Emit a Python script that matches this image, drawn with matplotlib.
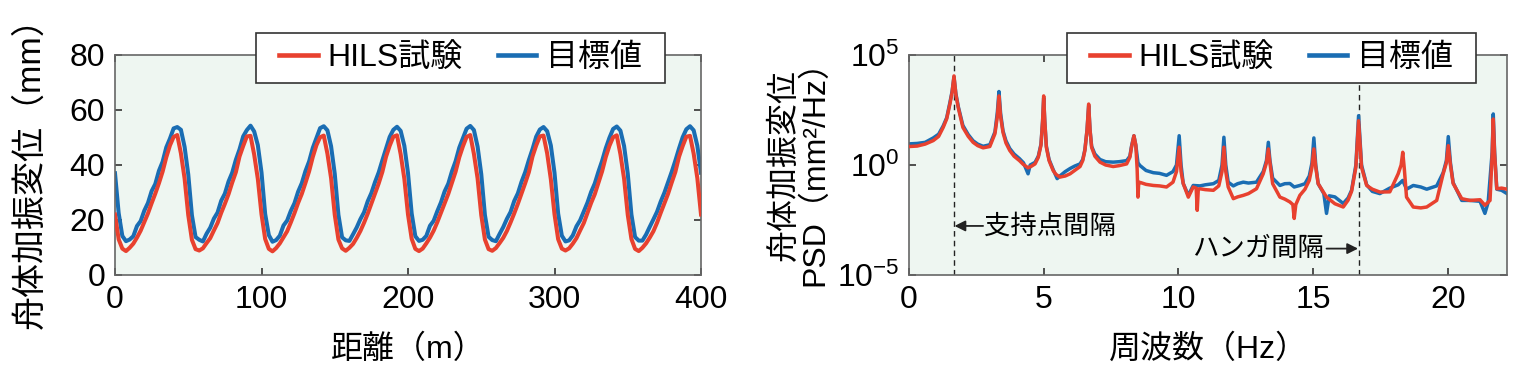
import numpy as np
import matplotlib
matplotlib.use('Agg')
import matplotlib.pyplot as plt
from matplotlib.patches import Rectangle
from matplotlib.ticker import FixedLocator, FixedFormatter, NullLocator

plt.rcParams['font.family'] = ['Liberation Sans', 'Noto Sans CJK JP']
plt.rcParams['mathtext.fontset'] = 'custom'
plt.rcParams['mathtext.rm'] = 'Liberation Sans'
plt.rcParams['axes.unicode_minus'] = True

# --- left panel: displacement vs distance (sampled every 2.5 m) ---
distance = np.arange(0, 400.01, 2.5)
hils_disp = [
    22.0, 13.0, 9.6, 8.7, 9.9, 11.4, 13.6, 16.1, 19.2, 22.4, 26.1, 29.6, 33.4, 37.6, 42.8, 47.1, 50.2, 50.9, 44.2, 35.1,
    21.8, 12.8, 9.4, 8.9, 9.7, 11.6, 13.4, 16.2, 18.9, 22.6, 25.9, 29.4, 33.6, 37.4, 43.1, 46.9, 50.4, 50.6, 43.8, 34.9,
    22.1, 13.1, 9.5, 8.6, 9.8, 11.5, 13.7, 15.9, 19.1, 22.5, 26.2, 29.5, 33.5, 37.7, 42.9, 47.2, 50.1, 50.7, 44.1, 35.2,
    21.9, 12.9, 9.7, 8.8, 9.9, 11.3, 13.5, 16.0, 19.0, 22.3, 26.0, 29.7, 33.3, 37.5, 43.0, 47.0, 50.3, 50.8, 43.9, 35.0,
    22.0, 13.2, 9.5, 8.7, 9.6, 11.5, 13.6, 16.1, 19.2, 22.6, 26.1, 29.5, 33.6, 37.6, 42.8, 46.8, 50.2, 50.9, 44.0, 35.1,
    21.8, 12.9, 9.4, 8.8, 9.8, 11.6, 13.5, 16.0, 19.1, 22.4, 25.9, 29.6, 33.4, 37.4, 43.1, 47.1, 50.4, 50.7, 44.2, 34.8,
    22.1, 13.0, 9.6, 8.9, 9.7, 11.4, 13.4, 16.2, 18.9, 22.5, 26.2, 29.4, 33.5, 37.7, 42.9, 47.0, 50.1, 50.8, 43.9, 35.0,
    21.9, 13.1, 9.5, 8.7, 9.9, 11.5, 13.6, 15.9, 19.0, 22.6, 26.0, 29.5, 33.6, 37.5, 43.0, 46.9, 50.3, 50.6, 44.1, 35.2,
    22.0,
]
target_disp = [
    37.0, 22.5, 14.2, 12.3, 12.9, 14.1, 17.8, 19.6, 23.4, 26.2, 30.5, 33.1, 37.9, 41.2, 46.4, 49.6, 53.3, 53.8, 52.8, 46.6,
    36.6, 21.7, 13.8, 12.8, 12.2, 15.0, 17.2, 20.5, 22.7, 27.0, 29.6, 34.0, 37.2, 41.9, 45.7, 50.4, 52.7, 54.3, 52.2, 47.2,
    37.3, 22.2, 14.5, 12.1, 12.7, 14.3, 18.0, 19.8, 23.3, 26.1, 30.3, 33.4, 37.8, 41.3, 46.2, 49.8, 53.4, 54.1, 52.6, 46.8,
    36.8, 21.9, 13.7, 12.6, 12.4, 14.8, 17.3, 20.3, 22.8, 26.8, 29.8, 33.8, 37.3, 41.7, 45.9, 50.2, 52.8, 53.9, 52.4, 47.0,
    37.1, 22.4, 14.1, 12.4, 12.8, 14.2, 17.9, 19.7, 23.2, 26.4, 30.4, 33.2, 37.7, 41.4, 46.3, 49.7, 53.2, 54.2, 52.7, 46.7,
    36.7, 21.8, 13.9, 12.7, 12.3, 14.9, 17.4, 20.4, 22.9, 26.9, 29.7, 33.9, 37.4, 41.8, 45.8, 50.3, 52.9, 53.8, 52.3, 47.1,
    37.2, 22.3, 14.3, 12.2, 12.6, 14.4, 17.7, 19.9, 23.1, 26.3, 30.2, 33.3, 37.6, 41.5, 46.1, 49.9, 53.1, 54.0, 52.5, 46.9,
    36.9, 22.0, 13.8, 12.5, 12.5, 14.7, 17.5, 20.2, 23.0, 26.7, 29.9, 33.7, 37.5, 41.6, 46.0, 50.1, 53.0, 54.1, 52.6, 47.0,
    37.2,
]

# --- right panel: PSD (log10 of mm^2/Hz) vs frequency ---
hils_freq = [
    0.0, 0.3, 0.6, 0.9, 1.1, 1.27, 1.4, 1.52, 1.6, 1.67, 1.74, 1.83, 2.0, 2.2, 2.38, 2.55, 2.75, 3.0,
    3.19, 3.28, 3.34, 3.4, 3.49, 3.6, 3.74, 3.9, 4.1, 4.25, 4.42, 4.55, 4.68, 4.8, 4.9, 4.96, 5.0, 5.04,
    5.1, 5.2, 5.35, 5.45, 5.6, 5.8, 5.98, 6.15, 6.35, 6.45, 6.53, 6.61, 6.67, 6.72, 6.78, 6.9, 7.09, 7.3,
    7.58, 7.8, 8.08, 8.2, 8.26, 8.35, 8.42, 8.47, 8.5, 8.53, 8.6, 8.8, 9.07, 9.3, 9.56, 9.8, 9.93, 10.03,
    10.1, 10.18, 10.37, 10.55, 10.66, 10.7, 10.74, 10.8, 11.0, 11.3, 11.5, 11.62, 11.69, 11.76, 11.85,
    12.04, 12.2, 12.41, 12.6, 12.9, 13.15, 13.27, 13.34, 13.4, 13.5, 13.77, 13.95, 14.14, 14.25, 14.3,
    14.36, 14.51, 14.7, 14.86, 14.96, 15.03, 15.1, 15.19, 15.5, 15.81, 16.12, 16.3, 16.43, 16.59, 16.69,
    16.8, 16.99, 17.2, 17.48, 17.85, 18.16, 18.27, 18.33, 18.39, 18.47, 18.72, 19.0, 19.22, 19.59, 19.83,
    19.95, 20.02, 20.1, 20.2, 20.52, 20.82, 21.2, 21.38, 21.57, 21.65, 21.69, 21.74, 21.82, 22.0, 22.2,
]
hils_psd_log = [
    0.84, 0.86, 0.95, 1.11, 1.3, 1.71, 2.1, 2.78, 3.3, 4.05, 3.2, 2.6, 1.71, 1.3, 1.03, 0.88, 0.78, 0.84,
    1.42, 2.2, 3.14, 2.2, 1.48, 1.0, 0.66, 0.4, 0.2, 0.02, -0.13, -0.05, 0.05, 0.35, 0.9, 2.0, 3.14, 2.0,
    0.8, 0.2, -0.25, -0.42, -0.55, -0.5, -0.4, -0.25, -0.07, 0.2, 0.66, 1.6, 2.77, 1.6, 0.8, 0.4, 0.13, 0.0,
    -0.07, -0.03, 0.05, 0.35, 0.8, 1.33, 0.9, -0.2, -1.46, -0.78, -0.8, -0.88, -0.93, -0.95, -1.0, -0.78, -0.3, 0.81,
    -0.3, -0.84, -1.46, -1.0, -1.05, -2.06, -1.1, -1.08, -1.12, -1.15, -0.95, -0.3, 0.81, -0.3, -1.0,
    -1.53, -1.45, -1.38, -1.3, -1.08, -0.4, 0.1, 0.73, 0.1, -0.85, -1.46, -1.55, -1.68, -1.8, -2.43,
    -1.8, -1.38, -1.1, -0.7, -0.1, 0.73, -0.1, -0.85, -1.46, -1.76, -1.91, -1.6, -1.2, -0.1, 2.01,
    -0.1, -0.93, -1.1, -1.23, -1.22, -0.4, 0.0, 0.58, -0.2, -1.46, -1.91, -1.95, -1.91, -1.61, -0.4,
    0.1, 0.88, 0.0, -0.84, -1.53, -1.61, -1.58, -1.83, -1.61, 0.5, 2.09, 0.5, -1.08, -1.05, -1.1,
]
target_freq = [
    0.0, 0.3, 0.6, 0.9, 1.1, 1.27, 1.4, 1.52, 1.6, 1.67, 1.74, 1.83, 2.0, 2.2, 2.38, 2.55, 2.75, 3.0,
    3.19, 3.28, 3.34, 3.4, 3.49, 3.6, 3.74, 3.9, 4.1, 4.25, 4.42, 4.5, 4.68, 4.8, 4.9, 4.96, 5.0, 5.04,
    5.1, 5.2, 5.35, 5.5, 5.6, 5.8, 5.98, 6.15, 6.35, 6.45, 6.53, 6.61, 6.67, 6.72, 6.78, 6.9, 7.09, 7.3,
    7.58, 7.8, 8.08, 8.2, 8.26, 8.35, 8.42, 8.5, 8.57, 8.8, 9.07, 9.3, 9.56, 9.8, 9.93, 10.03, 10.1,
    10.18, 10.37, 10.55, 10.8, 11.0, 11.3, 11.5, 11.62, 11.69, 11.76, 11.85, 12.04, 12.2, 12.41, 12.6,
    12.9, 13.15, 13.27, 13.34, 13.4, 13.5, 13.77, 13.95, 14.14, 14.3, 14.51, 14.7, 14.86, 14.96, 15.03,
    15.1, 15.19, 15.4, 15.5, 15.6, 15.81, 16.12, 16.3, 16.43, 16.59, 16.69, 16.8, 16.99, 17.2, 17.48,
    17.85, 18.16, 18.33, 18.47, 18.72, 19.0, 19.22, 19.59, 19.83, 19.95, 20.02, 20.1, 20.2, 20.52, 20.82,
    21.2, 21.38, 21.5, 21.65, 21.69, 21.74, 21.82, 22.0, 22.2,
]
target_psd_log = [
    0.96, 0.98, 1.03, 1.23, 1.4, 1.78, 2.15, 2.85, 3.35, 4.0, 3.25, 2.65, 1.8, 1.38, 1.1, 0.95, 0.85, 0.92,
    1.5, 2.4, 3.34, 2.35, 1.55, 1.1, 0.75, 0.5, 0.29, 0.1, -0.4, 0.0, 0.12, 0.4, 0.95, 2.0, 3.05, 2.0,
    0.85, 0.25, -0.2, -0.62, -0.5, -0.3, -0.16, -0.05, 0.05, 0.25, 0.7, 1.6, 2.7, 1.6, 0.85, 0.5, 0.25, 0.15,
    0.13, 0.15, 0.2, 0.4, 0.85, 1.33, 0.9, 0.1, -0.02, -0.25, -0.35, -0.38, -0.47, -0.3, 0.0, 1.33, 0.0,
    -0.84, -1.38, -0.93, -0.95, -0.9, -0.85, -0.7, 0.0, 1.26, 0.0, -0.78, -0.95, -0.85, -0.78, -0.82,
    -0.78, -0.3, 0.2, 1.03, 0.2, -0.6, -0.93, -0.85, -0.84, -1.0, -0.93, -0.85, -0.5, 0.1, 1.23,
    0.0, -0.85, -1.3, -2.2, -1.4, -1.45, -1.75, -1.5, -1.15, 0.0, 2.24, 0.0, -0.9, -1.2, -1.3,
    -1.05, -0.9, -0.7, -1.1, -0.93, -1.0, -1.1, -0.95, -0.35, 0.2, 1.29, 0.1, -0.8, -1.61, -1.61,
    -1.65, -2.2, -1.7, 0.6, 2.32, 0.6, -1.1, -1.15, -1.3,
]

support_freq = 1.67
hanger_freq = 16.69

red = '#e8412f'
blue = '#1a6db3'
bg = '#eef6f1'
spine = '#666666'
fs = 23

fig = plt.figure(figsize=(15.22, 3.8), dpi=100)
ax1 = fig.add_axes([115 / 1522, 105 / 380, 586 / 1522, 220 / 380])
ax2 = fig.add_axes([909 / 1522, 105 / 380, 598 / 1522, 220 / 380])

for ax in (ax1, ax2):
    ax.set_facecolor(bg)
    for s in ax.spines.values():
        s.set_color(spine)
        s.set_linewidth(1.2)
    ax.tick_params(direction='in', length=5, width=1.2, color='#333333',
                   top=True, right=True, labelsize=fs, pad=7)

# left
ax1.plot(distance, target_disp, color=blue, lw=2.9, label='目標値', zorder=2)
ax1.plot(distance, hils_disp, color=red, lw=2.9, label='HILS試験', zorder=3)
ax1.set_xlim(0, 400)
ax1.set_ylim(0, 80)
ax1.set_xticks([0, 100, 200, 300, 400])
ax1.set_yticks([0, 20, 40, 60, 80])
ax1.set_xlabel('距離（m）', fontsize=fs, va='center')
ax1.xaxis.set_label_coords(0.5, -0.34)
ax1.set_ylabel('舟体加振変位（mm）', fontsize=24.5, va='center')
ax1.yaxis.set_label_coords(-0.145, 0.5)

# right
ax2.axvline(support_freq, color='#222222', lw=1, ls=(0, (4, 3)), zorder=1)
ax2.axvline(hanger_freq, color='#222222', lw=1, ls=(0, (4, 3)), zorder=1)
ax2.plot(target_freq, 10 ** np.array(target_psd_log), color=blue, lw=2.5, label='目標値', zorder=2)
ax2.plot(hils_freq, 10 ** np.array(hils_psd_log), color=red, lw=2.5, label='HILS試験', zorder=3)
ax2.set_yscale('log')
ax2.set_xlim(0, 22.2)
ax2.set_ylim(1e-5, 1e5)
ax2.set_xticks([0, 5, 10, 15, 20])
ax2.yaxis.set_major_locator(FixedLocator([1e-5, 1e0, 1e5]))
ax2.yaxis.set_major_formatter(FixedFormatter([r'$\mathregular{10^{-5}}$', r'$\mathregular{10^{0}}$',
                                              r'$\mathregular{10^{5}}$']))
ax2.yaxis.set_minor_locator(NullLocator())
ax2.set_xlabel('周波数（Hz）', fontsize=fs, va='center')
ax2.xaxis.set_label_coords(0.5, -0.34)
ax2.set_ylabel('舟体加振変位\nPSD（mm²/Hz）', fontsize=fs, va='center', linespacing=1.0)
ax2.yaxis.set_label_coords(-0.183, 0.5)

y1 = 10 ** -2.77
ax2.annotate('', xy=(support_freq + 0.02, y1), xytext=(2.75, y1),
             arrowprops=dict(arrowstyle='-|>', color='#222222', lw=1.3, mutation_scale=16,
                             shrinkA=0, shrinkB=0))
ax2.text(2.8, y1, '支持点間隔', fontsize=19, ha='left', va='center')
y2 = 10 ** -3.8
ax2.annotate('', xy=(hanger_freq - 0.02, y2), xytext=(15.5, y2),
             arrowprops=dict(arrowstyle='-|>', color='#222222', lw=1.3, mutation_scale=16,
                             shrinkA=0, shrinkB=0))
ax2.text(15.4, y2, 'ハンガ間隔', fontsize=19, ha='right', va='center')

# legends: white box drawn separately so it can be padded wider than tall
y0, y1b = (275 - 83) / 220, (275 - 33) / 220
for ax, x0, x1 in ((ax1, (256 - 115) / 586, (665 - 115) / 586),
                   (ax2, (1067 - 909) / 598, (1476 - 909) / 598)):
    ax.add_patch(Rectangle((x0, y0), x1 - x0, y1b - y0, transform=ax.transAxes,
                           facecolor='white', edgecolor='#333333', lw=1.2,
                           clip_on=False, zorder=4.9))
    h, l = ax.get_legend_handles_labels()
    leg = ax.legend(h[::-1], l[::-1], ncol=2, loc='center',
                    bbox_to_anchor=((x0 + x1) / 2, (y0 + y1b) / 2),
                    borderaxespad=0, fontsize=23, frameon=False,
                    handlelength=1.2, handletextpad=0.3, columnspacing=1.1, borderpad=0.2)
    for line in leg.get_lines():
        line.set_linewidth(3.3)

fig.savefig('out.png', dpi=100)
